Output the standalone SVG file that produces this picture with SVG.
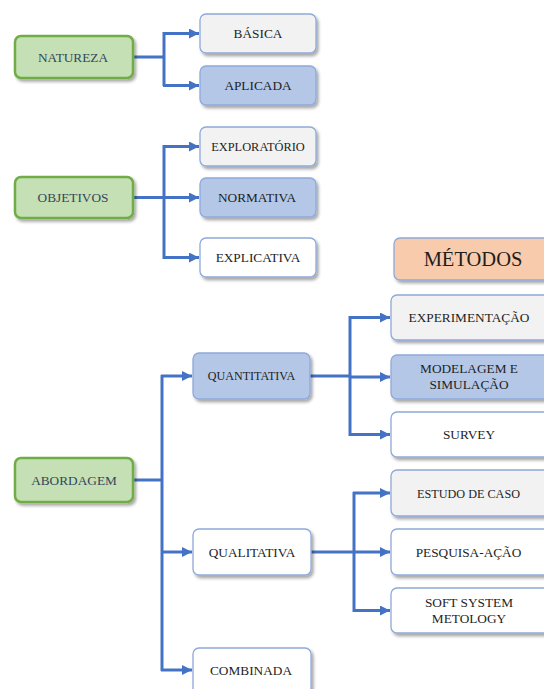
<svg xmlns="http://www.w3.org/2000/svg" width="544" height="689" viewBox="0 0 544 689">
  <defs>
    <filter id="sh" x="-10%" y="-10%" width="130%" height="140%">
      <feDropShadow dx="2" dy="2.5" stdDeviation="1.5" flood-color="#000" flood-opacity="0.35"/>
    </filter>
    <marker id="arr" markerUnits="userSpaceOnUse" markerWidth="11" markerHeight="11" refX="10" refY="5" orient="auto">
      <path d="M0,0 L10,5 L0,10 z" fill="#4472C4"/>
    </marker>
    <style>
      .g rect{fill:#C5E0B4;stroke:#70AD47;stroke-width:2.5;filter:url(#sh)}
      .b rect{stroke:#8EA9DB;stroke-width:1.3;filter:url(#sh)}
      .w rect{fill:#FFFFFF}
      .l rect{fill:#F2F2F2}
      .d rect{fill:#B4C7E7}
      .o rect{fill:#F8CBAD}
      text{font-size:13.3px;fill:#1E1E1E;text-anchor:middle;dominant-baseline:central}
      .g text{fill:#34465C}
      .c{fill:none;stroke:#4472C4;stroke-width:3}
      .c .a{marker-end:url(#arr)}
    </style>
  </defs>

  <g id="connectors" class="c">
    <path d="M133,57 H164 M164,32 V86"/>
    <path class="a" d="M163,33.5 H199"/>
    <path class="a" d="M163,85.5 H199"/>
    <path d="M133,197.5 H164 M164,145 V259"/>
    <path class="a" d="M163,146.5 H199"/>
    <path class="a" d="M163,197.5 H199"/>
    <path class="a" d="M163,257.5 H199"/>
    <path d="M133,480 H162 M162,375 V671"/>
    <path class="a" d="M161,376 H192"/>
    <path class="a" d="M161,552 H192"/>
    <path class="a" d="M161,670 H192"/>
    <path d="M310,376 H350 M350,316 V436"/>
    <path class="a" d="M349,317.5 H390"/>
    <path class="a" d="M350,377 H390"/>
    <path class="a" d="M349,434.5 H390"/>
    <path d="M311,552 H354 M354,492 V612"/>
    <path class="a" d="M353,493 H390"/>
    <path class="a" d="M354,552 H390"/>
    <path class="a" d="M353,610.5 H390"/>
  </g>

  <g id="nodes" font-family="'Liberation Serif', 'DejaVu Serif', serif">
  <g id="natureza" class="g"><rect x="15" y="36" width="118" height="42" rx="6"/><text x="73" y="57">NATUREZA</text></g>
  <g id="basica" class="b l"><rect x="200" y="14" width="116" height="39" rx="6"/><text x="258" y="33.5">BÁSICA</text></g>
  <g id="aplicada" class="b d"><rect x="200" y="66" width="116" height="39" rx="6"/><text x="258" y="85.5">APLICADA</text></g>

  <g id="objetivos" class="g"><rect x="15" y="177" width="118" height="41" rx="6"/><text x="73" y="197.5">OBJETIVOS</text></g>
  <g id="exploratorio" class="b l"><rect x="200" y="127" width="116" height="39" rx="6"/><text x="258" y="146.5" style="font-size:12.4px">EXPLORATÓRIO</text></g>
  <g id="normativa" class="b d"><rect x="200" y="178" width="116" height="39" rx="6"/><text x="257" y="197.5">NORMATIVA</text></g>
  <g id="explicativa" class="b w"><rect x="200" y="238" width="116" height="39" rx="6"/><text x="258" y="257.5">EXPLICATIVA</text></g>

  <g id="metodos" class="b o"><rect x="394" y="238" width="156" height="42" rx="6"/><text x="473" y="259" style="font-size:20.5px">MÉTODOS</text></g>

  <g id="abordagem" class="g"><rect x="15" y="458" width="118" height="44" rx="6"/><text x="74" y="480">ABORDAGEM</text></g>
  <g id="quantitativa" class="b d"><rect x="193" y="353" width="117" height="46" rx="6"/><text x="251.5" y="376" style="font-size:12.1px">QUANTITATIVA</text></g>
  <g id="qualitativa" class="b w"><rect x="193" y="529" width="118" height="46" rx="6"/><text x="252" y="552">QUALITATIVA</text></g>
  <g id="combinada" class="b w"><rect x="193" y="648" width="118" height="48" rx="6"/><text x="251" y="670">COMBINADA</text></g>

  <g id="experimentacao" class="b l"><rect x="391" y="295" width="160" height="45" rx="6"/><text x="469" y="317.5">EXPERIMENTAÇÃO</text></g>
  <g id="modelagem" class="b d"><rect x="391" y="355" width="160" height="44" rx="6"/><text x="469" y="368.5">MODELAGEM E</text><text x="469" y="384.5">SIMULAÇÃO</text></g>
  <g id="survey" class="b w"><rect x="391" y="412" width="160" height="45" rx="6"/><text x="469" y="434.5">SURVEY</text></g>
  <g id="estudo" class="b l"><rect x="391" y="470" width="160" height="46" rx="6"/><text x="468.5" y="493" textLength="103" lengthAdjust="spacingAndGlyphs">ESTUDO DE CASO</text></g>
  <g id="pesquisa" class="b w"><rect x="391" y="529" width="160" height="46" rx="6"/><text x="468.5" y="552">PESQUISA-AÇÃO</text></g>
  <g id="soft" class="b w"><rect x="391" y="588" width="160" height="45" rx="6"/><text x="469" y="602.5">SOFT SYSTEM</text><text x="469" y="618">METOLOGY</text></g>
  </g>
</svg>
